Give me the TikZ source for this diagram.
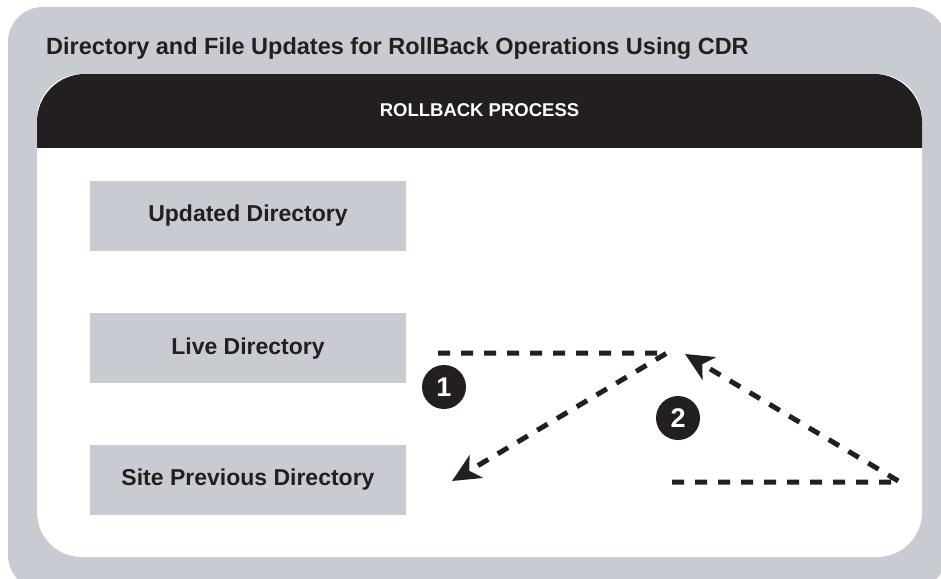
\documentclass[tikz,border=0pt]{standalone}
\usepackage{fontspec}
\setmainfont{Liberation Sans}
\usetikzlibrary{arrows.meta, positioning}
\definecolor{PanelGray}{RGB}{200,203,209}
\definecolor{InkBlack}{RGB}{35,31,32}

\begin{document}
\begin{tikzpicture}[x=1pt, y=-1pt, every node/.style={text=InkBlack, inner sep=0pt}, dirbox/.style={fill=PanelGray, minimum width=316pt, minimum height=70pt, font=\fontsize{23}{26}\selectfont\bfseries}, numdot/.style={circle, fill=InkBlack, minimum size=44pt, text=white, font=\fontsize{27}{27}\selectfont\bfseries}, rollarrow/.style={line width=5pt, draw=InkBlack, dash pattern=on 12pt off 11pt, line join=miter, -{Stealth[length=28pt, width=26pt, inset=8pt]}}]
\useasboundingbox (0,0) rectangle (941,578);
\clip (0,0) rectangle (941,578);
\fill[PanelGray, rounded corners=35] (8,7) rectangle (946,590);
\fill[white, rounded corners=45] (37,74) rectangle (922,557);
\begin{scope}
\clip (37,74) rectangle (922,147);
\fill[InkBlack, rounded corners=48] (37,74) rectangle (922,250);
\end{scope}

\node[anchor=base west, font=\fontsize{23.5}{28}\selectfont\bfseries] (title) at (46,55) {Directory and File Updates for RollBack Operations Using CDR};
\node[text=white, font=\fontsize{18.5}{22}\selectfont\bfseries] (header) at (479.5,110.5) {ROLLBACK PROCESS};

\node[dirbox] (updated) at (248,216) {Updated Directory};
\node[dirbox, below=62pt of updated] (live) {Live Directory};
\node[dirbox, below=61pt of live] (previous) {Site Previous Directory};

\node[numdot] (stepone) at (444,387) {1};
\node[numdot] (steptwo) at (678,418) {2};

\coordinate (onestart) at (438,353);
\coordinate (oneturn) at (667,353);
\coordinate (oneend) at (452,481);
\coordinate (twostart) at (672,482);
\coordinate (twoturn) at (900,482);
\coordinate (twoend) at (685,354);

\draw[rollarrow] (onestart) -- (oneturn) -- (oneend);
\draw[rollarrow] (twostart) -- (twoturn) -- (twoend);
\end{tikzpicture}
\end{document}
